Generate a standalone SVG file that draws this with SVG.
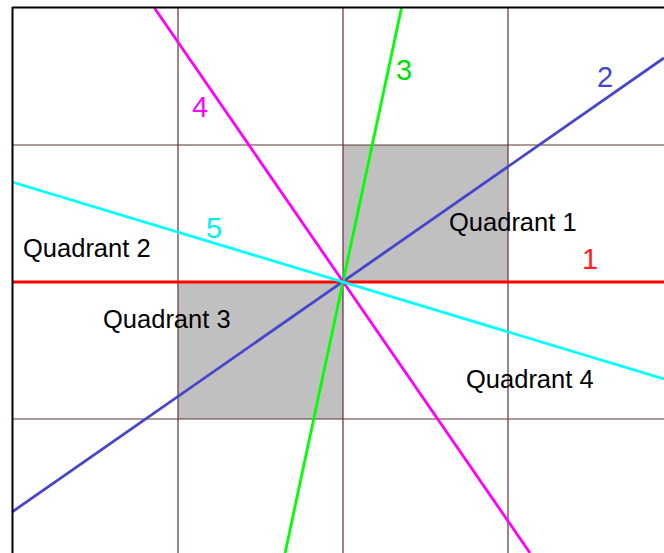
<svg xmlns="http://www.w3.org/2000/svg" width="664" height="553" viewBox="0 0 664 553">
<style>
.quad{fill:#c0c0c0;stroke:none}
.grid{stroke:#5e3434;stroke-width:1.2;fill:none}
.ray{fill:none;stroke-width:2.8;stroke-linecap:butt}
.qlabel{font-family:"Liberation Sans",Arial,sans-serif;font-size:25.5px;fill:#000}
.num{font-family:"Liberation Sans",Arial,sans-serif;font-size:29px}
</style>
<rect width="664" height="553" fill="#fff"/>
<g id="shading">
<rect class="quad" x="343" y="145" width="165" height="137"/>
<rect class="quad" x="178" y="282" width="165" height="137"/>
</g>
<g id="grid">
<line class="grid" x1="178" y1="7" x2="178" y2="553"/>
<line class="grid" x1="343" y1="7" x2="343" y2="553"/>
<line class="grid" x1="508" y1="7" x2="508" y2="553"/>
<line class="grid" x1="12" y1="145" x2="664" y2="145"/>
<line class="grid" x1="12" y1="419" x2="664" y2="419"/>
</g>
<g id="labels">
<text class="qlabel" x="449" y="231">Quadrant 1</text>
<text class="qlabel" x="23" y="257">Quadrant 2</text>
<text class="qlabel" x="103" y="328">Quadrant 3</text>
<text class="qlabel" x="466" y="388">Quadrant 4</text>
</g>
<g id="connectors">
<line class="ray" id="line1" x1="12" y1="282" x2="664" y2="282" stroke="#ff0000" stroke-width="2"/>
<line class="ray" id="line2" x1="12" y1="512" x2="664" y2="58" stroke="#4646cc"/>
<line class="ray" id="line3" x1="401.7" y1="7" x2="285.1" y2="553" stroke="#00ff00"/>
<line class="ray" id="line4" x1="154.5" y1="8" x2="530" y2="553" stroke="#ff00ff"/>
<line class="ray" id="line5" x1="12" y1="182" x2="664" y2="379" stroke="#00ffff"/>
</g>
<g id="numbers">
<text class="num" x="582" y="269" fill="#ff2020">1</text>
<text class="num" x="597" y="87" fill="#4646cc">2</text>
<text class="num" x="396" y="80" fill="#00e000">3</text>
<text class="num" x="192" y="117" fill="#ff00ff">4</text>
<text class="num" x="206" y="238" fill="#00f0f0">5</text>
</g>
<g id="border">
<line x1="12" y1="7.5" x2="664" y2="7.5" stroke="#000" stroke-width="2"/>
<line x1="12.5" y1="7" x2="12.5" y2="553" stroke="#000" stroke-width="2"/>
</g>
</svg>
